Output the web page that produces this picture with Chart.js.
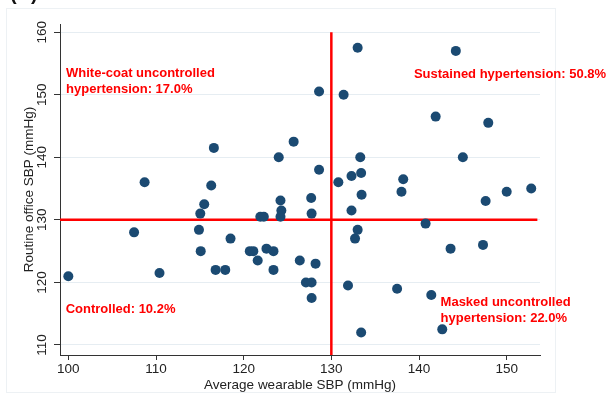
<!DOCTYPE html>
<html>
<head>
<meta charset="utf-8">
<script src="https://cdn.jsdelivr.net/npm/chart.js"></script>
<style>
  html, body { margin: 0; padding: 0; background: #fff; }
  #wrap { width: 610px; height: 399px; }
</style>
</head>
<body>
<div id="wrap"><canvas id="myChart"></canvas></div>
<script>
// average wearable SBP (x) and routine office SBP (y), one pair per patient
const wearableSbp = [100, 107.5, 108.7, 110.4, 114.9, 115.1, 115.05, 115.5, 116.3, 116.6,
    116.8, 117.9, 118.5, 120.7, 121.1, 121.6, 121.9, 122.3, 122.6, 123.4,
    123.4, 124, 124.2, 124.3, 124.2, 125.7, 126.4, 127.1, 127.75, 127.75,
    127.7, 127.75, 128.2, 128.6, 128.6, 130.8, 131.4, 131.9, 132.3, 132.3,
    132.7, 133.0, 133.0, 133.3, 133.4, 133.45, 133.4, 137.5, 138.0, 138.2,
    140.75, 141.4, 141.9, 142.65, 143.6, 144.2, 145.0, 147.3, 147.6, 147.9,
    150, 152.8]
const officeSbp = [121, 128, 136, 121.5, 128.4, 125, 131, 132.5, 135.5, 141.5,
    122, 122, 127, 125, 125, 123.5, 130.5, 130.5, 125.4, 125,
    122, 140, 133.1, 131.5, 130.5, 142.5, 123.5, 120, 120, 117.5,
    133.5, 131, 123, 138, 150.5, 136, 150, 119.5, 137, 131.5,
    127, 128.4, 157.5, 140, 137.5, 134, 112, 119, 134.5, 136.5,
    129.4, 118, 146.5, 112.5, 125.4, 157, 140, 126, 133, 145.5,
    134.5, 135]

const xTicks = [100, 110, 120, 130, 140, 150]
const yTicks = [110, 120, 130, 140, 150, 160]
const cutoff = 130

const quadrantText = [
    { lines: ['White-coat uncontrolled', 'hypertension: 17.0%'], x: 99.74, y: 152.8 },
    { lines: ['Sustained hypertension: 50.8%'], x: 139.42, y: 152.64 },
    { lines: ['Controlled: 10.2%'], x: 99.7, y: 115.14 },
    { lines: ['Masked uncontrolled', 'hypertension: 22.0%'], x: 142.46, y: 116.2 },
]

const xMin = 99.05, xMax = 153.8
const yMin = 108.4, yMax = 161.3
const font = "'Liberation Sans', Arial, sans-serif"

const points = wearableSbp.map((v, i) => ({ x: v, y: officeSbp[i] }))

const extras = {
    id: 'extras',
    beforeDraw(chart) {
        const c = chart.ctx
        c.save()
        c.strokeStyle = '#edf1f4'
        c.lineWidth = 1
        c.strokeRect(6.5, 8.5, 549, 384)
        c.fillStyle = '#111'
        c.font = 'bold 20px ' + font
        c.textBaseline = 'alphabetic'
        c.fillText('(B)', 10, 0)
        c.restore()
    },
    afterDraw(chart) {
        const c = chart.ctx
        const sx = chart.scales.x, sy = chart.scales.y
        c.save()
        // rotated y tick labels
        c.fillStyle = '#222'
        c.font = '13.5px ' + font
        c.textAlign = 'center'
        c.textBaseline = 'alphabetic'
        yTicks.forEach(v => {
            c.save()
            c.translate(sy.right - 14.5, sy.getPixelForValue(v))
            c.rotate(-Math.PI / 2)
            c.fillText(String(v), 0, 0)
            c.restore()
        })
        // quadrant labels
        c.fillStyle = '#ff0000'
        c.font = 'bold 13px ' + font
        c.textAlign = 'left'
        quadrantText.forEach(q => {
            const px = sx.getPixelForValue(q.x)
            const py = sy.getPixelForValue(q.y)
            q.lines.forEach((t, i) => c.fillText(t, px, py + i * 16))
        })
        c.restore()
    }
}

new Chart(document.getElementById('myChart'), {
    type: 'scatter',
    data: {
        datasets: [
            {
                label: 'patients',
                data: points,
                backgroundColor: '#1b4a72',
                borderWidth: 0,
                pointRadius: 5,
                order: 0
            },
            {
                label: 'wearable cutoff',
                data: [{ x: cutoff, y: yMin }, { x: cutoff, y: 160 }],
                showLine: true,
                borderColor: '#ff0000',
                borderWidth: 2.5,
                pointRadius: 0,
                order: 1
            },
            {
                label: 'office cutoff',
                data: [{ x: xMin, y: cutoff }, { x: 153.5, y: cutoff }],
                showLine: true,
                borderColor: '#ff0000',
                borderWidth: 2.5,
                pointRadius: 0,
                order: 1
            }
        ]
    },
    options: {
        responsive: true,
        maintainAspectRatio: false,
        animation: false,
        layout: { padding: { left: 21, right: 70, top: 24, bottom: 6 } },
        scales: {
            x: {
                type: 'linear',
                min: xMin,
                max: xMax,
                afterBuildTicks: s => { s.ticks = xTicks.map(v => ({ value: v })) },
                afterFit: s => { s.height = 38 },
                grid: { drawOnChartArea: false, tickLength: 5, tickColor: '#333' },
                border: { color: '#333' },
                ticks: {
                    color: '#222',
                    padding: 1,
                    maxRotation: 0,
                    font: { size: 13.5, family: font }
                },
                title: {
                    display: true,
                    text: 'Average wearable SBP (mmHg)',
                    color: '#222',
                    padding: 0,
                    font: { size: 13.5, family: font }
                }
            },
            y: {
                type: 'linear',
                min: yMin,
                max: yMax,
                afterBuildTicks: s => { s.ticks = yTicks.map(v => ({ value: v })) },
                afterFit: s => { s.width = 39 },
                grid: { color: '#e6edf2', tickLength: 6, tickColor: '#333' },
                border: { color: '#333' },
                ticks: { color: 'rgba(0,0,0,0)', font: { size: 13.5, family: font } },
                title: {
                    display: true,
                    text: 'Routine office SBP (mmHg)',
                    color: '#222',
                    padding: 0,
                    font: { size: 13.5, family: font }
                }
            }
        },
        plugins: {
            legend: { display: false },
            tooltip: { enabled: false }
        }
    },
    plugins: [extras]
})
</script>
</body>
</html>
